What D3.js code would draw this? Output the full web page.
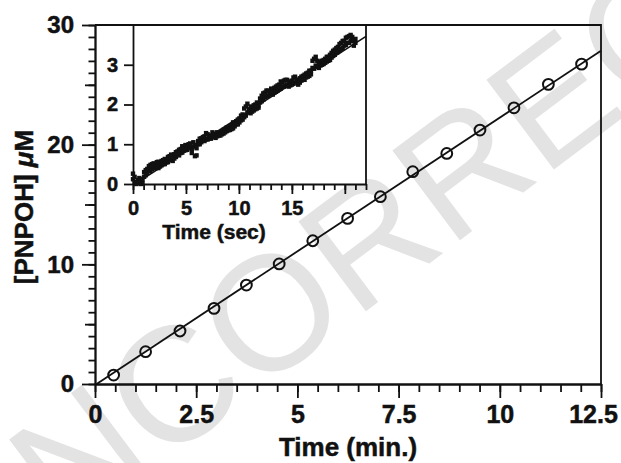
<!DOCTYPE html>
<html>
<head>
<meta charset="utf-8">
<script src="https://cdn.jsdelivr.net/npm/d3@7"></script>
<style>
  body { margin: 0; background: #fff; }
  svg { display: block; font-family: "Liberation Sans", Arial, Helvetica, sans-serif; }
</style>
</head>
<body>
<script>
// main panel: product vs time (min)
const mainTime = [0.46, 1.25, 2.10, 2.94, 3.74, 4.55, 5.38, 6.24, 7.05, 7.85, 8.69, 9.51, 10.35, 11.20, 12.02]
const mainConc = [0.75, 2.70, 4.43, 6.32, 8.27, 10.03, 11.97, 13.84, 15.65, 17.74, 19.27, 21.22, 23.08, 25.04, 26.73]
const mainFit = {slope: 2.235, intercept: -0.09}
const mainXTicks = [0, 2.5, 5, 7.5, 10, 12.5]
const mainYTicks = [0, 10, 20, 30]

// inset: first seconds of the trace
const insetTime = [
  0, 0.15, 0.3, 0.45, 0.6, 0.75, 0.9, 1.05, 1.2, 1.35, 1.5, 1.65, 1.8, 1.95, 2.1, 2.25, 2.4, 2.55, 2.7, 2.85,
  3.0, 3.15, 3.3, 3.45, 3.6, 3.75, 3.9, 4.05, 4.2, 4.35, 4.5, 4.65, 4.8, 4.95, 5.1, 5.25, 5.4, 5.55, 5.7, 5.85,
  6.0, 6.15, 6.3, 6.45, 6.6, 6.75, 6.9, 7.05, 7.2, 7.35, 7.5, 7.65, 7.8, 7.95, 8.1, 8.25, 8.4, 8.55, 8.7, 8.85,
  9.0, 9.15, 9.3, 9.45, 9.6, 9.75, 9.9, 10.05, 10.2, 10.35, 10.5, 10.65, 10.8, 10.95, 11.1, 11.25, 11.4, 11.55, 11.7, 11.85,
  12.0, 12.15, 12.3, 12.45, 12.6, 12.75, 12.9, 13.05, 13.2, 13.35, 13.5, 13.65, 13.8, 13.95, 14.1, 14.25, 14.4, 14.55, 14.7, 14.85,
  15.0, 15.15, 15.3, 15.45, 15.6, 15.75, 15.9, 16.05, 16.2, 16.35, 16.5, 16.65, 16.8, 16.95, 17.1, 17.25, 17.4, 17.55, 17.7, 17.85,
  18.0, 18.15, 18.3, 18.45, 18.6, 18.75, 18.9, 19.05, 19.2, 19.35, 19.5, 19.65, 19.8, 19.95, 20.1, 20.25, 20.4, 20.55, 20.7, 20.85,
  21.0
]
const insetConcA = [
  0.26, 0.05, 0.02, 0.10, 0.04, 0.00, 0.12, 0.30, 0.22, 0.38, 0.45, 0.33, 0.50, 0.42, 0.48, 0.55, 0.40, 0.52, 0.47, 0.60,
  0.50, 0.62, 0.55, 0.70, 0.63, 0.58, 0.75, 0.68, 0.82, 0.72, 0.88, 0.79, 0.92, 0.85, 0.95, 0.90, 1.02, 0.88, 1.05, 0.98,
  0.72, 1.08, 1.00, 1.15, 1.10, 1.20, 1.12, 1.25, 1.15, 1.20, 1.30, 1.18, 1.24, 1.20, 1.28, 1.22, 1.32, 1.27, 1.38, 1.33,
  1.42, 1.36, 1.48, 1.40, 1.52, 1.58, 1.50, 1.65, 1.60, 1.75, 1.68, 1.95, 1.80, 1.88, 1.78, 1.92, 1.85, 2.00, 1.90, 1.97,
  2.05, 2.22, 2.12, 2.30, 2.20, 2.35, 2.25, 2.28, 2.38, 2.30, 2.45, 2.35, 2.50, 2.40, 2.55, 2.45, 2.62, 2.50, 2.55, 2.48,
  2.60, 2.52, 2.70, 2.58, 2.62, 2.55, 2.70, 2.65, 2.75, 2.68, 2.80, 2.72, 2.85, 3.10, 2.90, 3.20, 2.95, 3.05, 2.98, 3.10,
  3.02, 3.15, 3.08, 3.20, 3.12, 3.30, 3.22, 3.38, 3.30, 3.45, 3.35, 3.55, 3.42, 3.60, 3.50, 3.70, 3.55, 3.75, 3.60, 3.48,
  3.65
]
const insetConcB = [
  0.12, 0.18, 0.00, 0.03, 0.15, 0.08, 0.02, 0.18, 0.35, 0.28, 0.36, 0.48, 0.38, 0.52, 0.40, 0.45, 0.56, 0.44, 0.58, 0.50,
  0.63, 0.54, 0.68, 0.60, 0.74, 0.68, 0.64, 0.80, 0.74, 0.86, 0.78, 0.95, 0.84, 0.98, 0.86, 1.00, 0.92, 0.78, 0.94, 0.70,
  0.90, 1.00, 1.14, 1.05, 1.18, 1.08, 1.28, 1.12, 1.22, 1.14, 1.20, 1.26, 1.16, 1.30, 1.22, 1.30, 1.25, 1.36, 1.30, 1.42,
  1.35, 1.45, 1.38, 1.55, 1.45, 1.50, 1.62, 1.55, 1.72, 1.62, 1.90, 1.72, 2.02, 1.80, 1.95, 1.82, 1.98, 1.88, 2.05, 1.92,
  2.15, 2.08, 2.28, 2.18, 2.35, 2.22, 2.32, 2.40, 2.25, 2.42, 2.32, 2.48, 2.38, 2.58, 2.45, 2.60, 2.48, 2.62, 2.45, 2.58,
  2.50, 2.68, 2.55, 2.62, 2.50, 2.66, 2.60, 2.72, 2.62, 2.78, 2.70, 2.85, 2.76, 2.92, 3.15, 2.98, 3.10, 2.92, 3.08, 3.00,
  3.12, 3.05, 3.20, 3.10, 3.25, 3.18, 3.35, 3.25, 3.42, 3.32, 3.52, 3.40, 3.60, 3.48, 3.68, 3.55, 3.72, 3.60, 3.70, 3.62,
  3.55
]
const insetFit = {slope: 0.17, intercept: -0.027}
const insetXTicks = [0, 5, 10, 15]
const insetYTicks = [0, 1, 2, 3]

const width = 621
const height = 463
const main = {left: 95, right: 601, top: 25, bottom: 384}
const inset = {left: 133, right: 366, top: 25, bottom: 184}
const ink = "#111"

const svg = d3.select("body").append("svg")
  .attr("width", width)
  .attr("height", height)

// proof watermark behind everything
svg.append("text")
  .attr("transform", "translate(-28,608) rotate(-37)")
  .attr("font-size", 163)
  .attr("fill", "#e3e3e3")
  .text("UNCORRECTED PROOF")

const x = d3.scaleLinear().domain([0, 12.5]).range([main.left, main.right])
const y = d3.scaleLinear().domain([0, 30]).range([main.bottom, main.top])

function styleAxis(g, fontSize) {
  g.attr("font-family", null).attr("font-size", null)
  g.selectAll("path, line").attr("stroke", ink).attr("stroke-width", 1.8)
  g.selectAll("text")
    .attr("fill", ink)
    .attr("stroke", ink)
    .attr("stroke-width", 0.5)
    .attr("font-size", fontSize)
    .attr("font-weight", "bold")
}

function boldText(sel, size) {
  return sel
    .attr("font-size", size)
    .attr("font-weight", "bold")
    .attr("fill", ink)
    .attr("stroke", ink)
    .attr("stroke-width", 0.5)
}

// main axes: minor ticks first, then labelled majors
svg.append("g")
  .attr("transform", `translate(0,${main.bottom})`)
  .call(d3.axisBottom(x).tickValues(d3.range(0, 12.51, 0.5)).tickSize(8).tickSizeOuter(0).tickFormat(""))
  .call(g => styleAxis(g, 0))
svg.append("g")
  .attr("transform", `translate(0,${main.bottom})`)
  .call(d3.axisBottom(x).tickValues(mainXTicks).tickSize(14).tickSizeOuter(0).tickPadding(7).tickFormat(d => d))
  .call(g => styleAxis(g, 25))
  .call(g => g.selectAll(".tick text").filter(d => d === 12.5).attr("dx", -8))

svg.append("g")
  .attr("transform", `translate(${main.left},0)`)
  .call(d3.axisLeft(y).tickValues(d3.range(0, 31, 1)).tickSize(6.5).tickSizeOuter(0).tickFormat(""))
  .call(g => styleAxis(g, 0))
svg.append("g")
  .attr("transform", `translate(${main.left},0)`)
  .call(d3.axisLeft(y).tickValues([5, 15, 25]).tickSize(10).tickSizeOuter(0).tickFormat(""))
  .call(g => g.select(".domain").remove())
  .call(g => styleAxis(g, 0))
svg.append("g")
  .attr("transform", `translate(${main.left},0)`)
  .call(d3.axisLeft(y).tickValues(mainYTicks).tickSize(13).tickSizeOuter(0).tickPadding(8).tickFormat(d => d))
  .call(g => styleAxis(g, 24))

// frame top and right
svg.append("path")
  .attr("d", `M${main.left},${main.top}H${main.right}V${main.bottom}`)
  .attr("fill", "none")
  .attr("stroke", ink)
  .attr("stroke-width", 1.8)

const mainLine = d3.line().x(d => x(d)).y(d => y(mainFit.slope * d + mainFit.intercept))
svg.append("path")
  .datum([-mainFit.intercept / mainFit.slope, 12.5])
  .attr("d", mainLine)
  .attr("fill", "none")
  .attr("stroke", ink)
  .attr("stroke-width", 1.8)

svg.append("g")
  .selectAll("circle")
  .data(mainTime)
  .join("circle")
    .attr("cx", d => x(d))
    .attr("cy", (d, i) => y(mainConc[i]))
    .attr("r", 5.4)
    .attr("fill", "none")
    .attr("stroke", ink)
    .attr("stroke-width", 2)

svg.append("text")
  .attr("x", (main.left + main.right) / 2)
  .attr("y", 456)
  .attr("text-anchor", "middle")
  .call(boldText, 26)
  .text("Time (min.)")

const yTitle = svg.append("text")
  .attr("transform", "translate(33,207) rotate(-90)")
  .attr("text-anchor", "middle")
  .call(boldText, 26)
yTitle.append("tspan").text("[PNPOH] ")
yTitle.append("tspan").attr("font-style", "italic").text("μ")
yTitle.append("tspan").text("M")

// inset
const xi = d3.scaleLinear().domain([0, 22]).range([inset.left, inset.right])
const yi = d3.scaleLinear().domain([0, 4]).range([inset.bottom, inset.top])

const gi = svg.append("g")
gi.append("rect")
  .attr("x", inset.left)
  .attr("y", inset.top)
  .attr("width", inset.right - inset.left)
  .attr("height", inset.bottom - inset.top)
  .attr("fill", "#fff")

gi.append("g")
  .attr("transform", `translate(0,${inset.bottom})`)
  .call(d3.axisBottom(xi).tickValues(d3.range(0, 22.01, 1)).tickSize(6).tickSizeOuter(0).tickFormat(""))
  .call(g => styleAxis(g, 0))
gi.append("g")
  .attr("transform", `translate(0,${inset.bottom})`)
  .call(d3.axisBottom(xi).tickValues([20]).tickSize(10).tickSizeOuter(0).tickFormat(""))
  .call(g => g.select(".domain").remove())
  .call(g => styleAxis(g, 0))
gi.append("g")
  .attr("transform", `translate(0,${inset.bottom})`)
  .call(d3.axisBottom(xi).tickValues(insetXTicks).tickSize(10).tickSizeOuter(0).tickPadding(7).tickFormat(d => d))
  .call(g => g.select(".domain").remove())
  .call(g => styleAxis(g, 20))
gi.append("g")
  .attr("transform", `translate(${inset.left},0)`)
  .call(d3.axisLeft(yi).tickValues(insetYTicks).tickSize(9).tickSizeOuter(0).tickPadding(6).tickFormat(d => d))
  .call(g => styleAxis(g, 20))

gi.append("path")
  .attr("d", `M${inset.left},${inset.top}H${inset.right}V${inset.bottom}`)
  .attr("fill", "none")
  .attr("stroke", ink)
  .attr("stroke-width", 1.8)

const insetPoints = insetTime.flatMap((t, i) => [[t, insetConcA[i]], [t, insetConcB[i]]])
gi.append("g")
  .selectAll("rect")
  .data(insetPoints)
  .join("rect")
    .attr("x", d => xi(d[0]) - 2.2)
    .attr("y", d => yi(d[1]) - 2.2)
    .attr("width", 4.4)
    .attr("height", 4.4)
    .attr("fill", ink)

const insetLine = d3.line().x(d => xi(d)).y(d => yi(insetFit.slope * d + insetFit.intercept))
gi.append("path")
  .datum([-insetFit.intercept / insetFit.slope, 22])
  .attr("d", insetLine)
  .attr("fill", "none")
  .attr("stroke", ink)
  .attr("stroke-width", 1.6)

gi.append("text")
  .attr("x", 214)
  .attr("y", 239)
  .attr("text-anchor", "middle")
  .call(boldText, 21)
  .text("Time (sec)")
</script>
</body>
</html>
